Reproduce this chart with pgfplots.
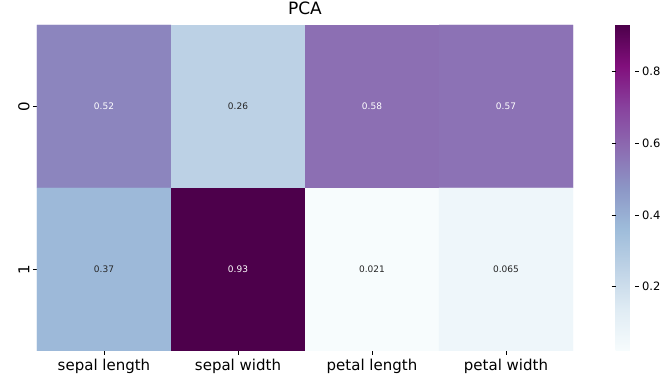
\documentclass[border=0pt]{standalone}
\usepackage{pgfplots}
\pgfplotsset{compat=1.18}
\usepackage{fontspec}
\setmainfont{DejaVu Sans}
\pgfplotstableread{
x y C
0 1 0.52
1 1 0.26
2 1 0.58
3 1 0.57
0 0 0.37
1 0 0.93
2 0 0.021
3 0 0.065
}\heat
\pgfplotstableread{
x y L
0 1 0.52
2 1 0.58
3 1 0.57
1 0 0.93
}\whitelab
\pgfplotstableread{
x y L
1 1 0.26
0 0 0.37
2 0 0.021
3 0 0.065
}\darklab
\begin{document}
\begin{tikzpicture}
\begin{axis}[
  name=ax,
  scale only axis,
  width=536pt, height=326pt,
  xmin=-0.5, xmax=3.5, ymin=-0.5, ymax=1.5,
  colormap={bupu}{rgb255=(247,252,253) rgb255=(224,236,244) rgb255=(191,211,230) rgb255=(158,188,218) rgb255=(140,150,198) rgb255=(140,107,177) rgb255=(136,65,157) rgb255=(129,15,124) rgb255=(77,0,75)},
  point meta min=0.021, point meta max=0.93,
  axis line style={draw=none},
  tick align=outside,
  xtick pos=left, ytick pos=left,
  major tick length=4pt,
  tick style={black, line width=0.6pt},
  xtick={0,1,2,3},
  xticklabels={sepal length, sepal width, petal length, petal width},
  ytick={0,1}, yticklabels={1,0},
  x tick label style={font=\fontsize{15}{17}\selectfont, yshift=-1pt},
  y tick label style={font=\fontsize{15}{17}\selectfont, rotate=90, anchor=south, xshift=0pt},
  title={PCA},
  title style={font=\fontsize{17}{19}\selectfont, at={(0.5,1)}, anchor=south, yshift=1pt},
  colorbar right,
  colorbar style={
    at={(parent axis.north east)}, anchor=north west, xshift=34pt,
    width=19pt,
    axis line style={draw=none},
    ytick={0.2,0.4,0.6,0.8},
    tick align=outside, major tick length=4pt,
    tick style={black, line width=0.6pt},
    yticklabel style={font=\fontsize{11.5}{13}\selectfont, /pgf/number format/fixed, /pgf/number format/precision=1, /pgf/number format/assume math mode=true},
  },
]
\addplot[matrix plot*, mesh/cols=4, point meta=explicit] table[meta=C]{\heat};
\addplot[only marks, mark=none, nodes near coords, point meta=explicit symbolic,
  nodes near coords style={white, anchor=center, font=\fontsize{9}{10}\selectfont}] table[meta=L]{\whitelab};
\addplot[only marks, mark=none, nodes near coords, point meta=explicit symbolic,
  nodes near coords style={black!85, anchor=center, font=\fontsize{9}{10}\selectfont}] table[meta=L]{\darklab};
\end{axis}
\pgfresetboundingbox
\useasboundingbox ([shift={(-37pt,-31pt)}]ax.south west) rectangle ([shift={(96pt,25pt)}]ax.north east);
\end{tikzpicture}
\end{document}
